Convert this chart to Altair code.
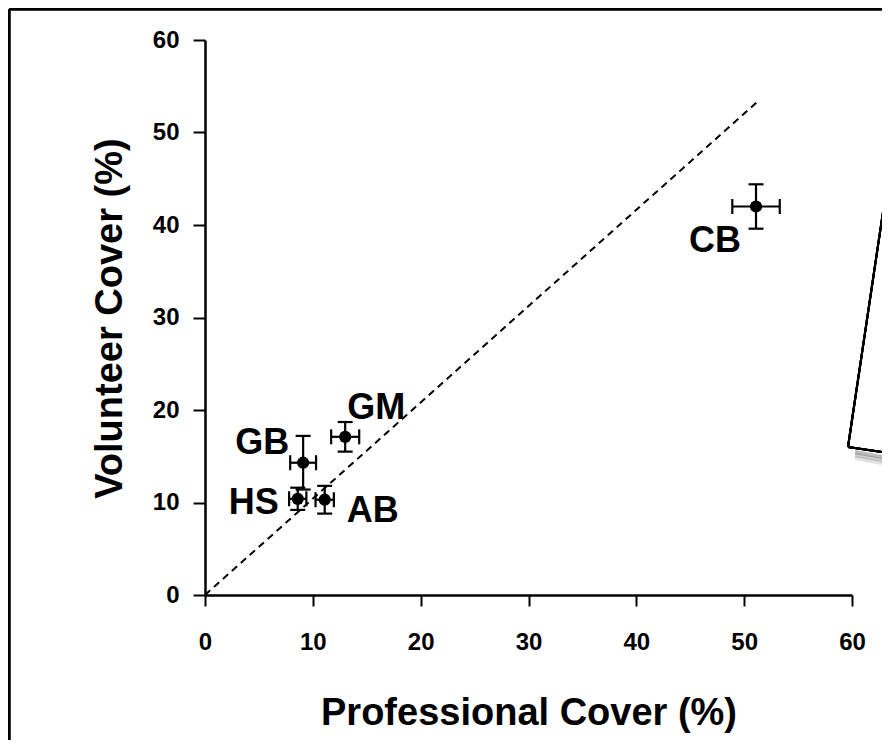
import altair as alt
import pandas as pd

# ---- data ----
labels = ["CB", "GM", "GB", "HS", "AB"]
professional = [51.1, 13.0, 9.1, 8.6, 11.1]
volunteer = [42.0, 17.1, 14.3, 10.4, 10.3]
prof_err = [2.2, 1.3, 1.2, 0.8, 0.85]
vol_err = [2.4, 1.6, 2.9, 1.2, 1.5]

line_x = [0, 51.3]
line_y = [0, 53.4]

x_ticks = [0, 10, 20, 30, 40, 50, 60]
y_ticks = [0, 10, 20, 30, 40, 50, 60]

df = pd.DataFrame({
    "label": labels,
    "prof": professional,
    "vol": volunteer,
    "prof_lo": [p - e for p, e in zip(professional, prof_err)],
    "prof_hi": [p + e for p, e in zip(professional, prof_err)],
    "vol_lo": [v - e for v, e in zip(volunteer, vol_err)],
    "vol_hi": [v + e for v, e in zip(volunteer, vol_err)],
})
line_df = pd.DataFrame({"x": line_x, "y": line_y})

W, H = 647, 555
PAD_L, PAD_T, PAD_R, PAD_B = 197, 32, 30, 145
FONT = "Liberation Sans"

xscale = alt.Scale(domain=[0, 60], nice=False, zero=False)
yscale = alt.Scale(domain=[0, 60], nice=False, zero=False)

xaxis = alt.Axis(values=x_ticks, title="Professional Cover (%)", grid=False,
                 tickSize=11, tickWidth=2, domainWidth=2.5, domainColor="black",
                 tickColor="black", labelFontSize=24, labelFontWeight="bold",
                 labelFont=FONT, labelColor="black", labelPadding=24,
                 labelFlush=False, labelOverlap=False,
                 titleFont=FONT, titleFontSize=38, titleFontWeight="bold",
                 titleColor="black", titleY=118, titleBaseline="middle")
yaxis = alt.Axis(values=y_ticks, title="Volunteer Cover (%)", grid=False,
                 tickSize=12, tickWidth=2, domainWidth=2.5, domainColor="black",
                 tickColor="black", labelFontSize=24, labelFontWeight="bold",
                 labelFont=FONT, labelColor="black", labelPadding=14,
                 labelOverlap=False,
                 titleFont=FONT, titleFontSize=38, titleFontWeight="bold",
                 titleColor="black", titleX=-95, titleY=278, titleAngle=-90,
                 titleBaseline="middle", titleAlign="center")

base = alt.Chart(df)

diag = alt.Chart(line_df).mark_line(color="black", strokeWidth=2, strokeDash=[7, 5]).encode(
    x=alt.X("x:Q", scale=xscale, axis=xaxis),
    y=alt.Y("y:Q", scale=yscale, axis=yaxis),
)

xerr = base.mark_rule(color="black", strokeWidth=2.2).encode(
    x=alt.X("prof_lo:Q", scale=xscale), x2="prof_hi:Q", y=alt.Y("vol:Q", scale=yscale))
yerr = base.mark_rule(color="black", strokeWidth=2.2).encode(
    x=alt.X("prof:Q", scale=xscale), y=alt.Y("vol_lo:Q", scale=yscale), y2="vol_hi:Q")

caps = []
for fx, fy, orient in [("prof_lo", "vol", "vertical"), ("prof_hi", "vol", "vertical"),
                       ("prof", "vol_lo", "horizontal"), ("prof", "vol_hi", "horizontal")]:
    caps.append(base.mark_tick(color="black", orient=orient, size=15, thickness=2.2, opacity=1).encode(
        x=alt.X(f"{fx}:Q", scale=xscale), y=alt.Y(f"{fy}:Q", scale=yscale)))

pts = base.mark_point(filled=True, color="black", size=150, opacity=1).encode(
    x=alt.X("prof:Q", scale=xscale), y=alt.Y("vol:Q", scale=yscale))

offsets = {"CB": (-41, 34), "GM": (31, -29), "GB": (-41, -20), "HS": (-44, 4), "AB": (48, 11)}
texts = []
for lab, (dx, dy) in offsets.items():
    texts.append(base.transform_filter(alt.datum.label == lab).mark_text(
        font=FONT, fontSize=36, fontWeight="bold", color="black",
        dx=dx, dy=dy, align="center", baseline="middle").encode(
        x=alt.X("prof:Q", scale=xscale), y=alt.Y("vol:Q", scale=yscale), text="label:N"))

# decorative frame and overlaid card, in pixel space
frame_left = alt.Chart(df).mark_rule(color="black", strokeWidth=2.5, clip=False).encode(
    x=alt.value(-196), y=alt.value(-31), y2=alt.value(H + PAD_B))
frame_top = alt.Chart(df).mark_rule(color="black", strokeWidth=2.5, clip=False).encode(
    x=alt.value(-196), x2=alt.value(W + PAD_R), y=alt.value(-31))
shadows = []
for off, op in [(4, 0.10), (7, 0.07), (10, 0.04)]:
    shadows.append(alt.Chart(df).mark_rule(color="#666", strokeWidth=4, opacity=op, clip=False).encode(
        x=alt.value(650), x2=alt.value(W + PAD_R), y=alt.value(408 + off), y2=alt.value(413 + off)))
card_left = alt.Chart(df).mark_rule(color="black", strokeWidth=2, clip=False).encode(
    x=alt.value(685), x2=alt.value(643), y=alt.value(125), y2=alt.value(407))
card_bottom = alt.Chart(df).mark_rule(color="black", strokeWidth=2, clip=False).encode(
    x=alt.value(643), x2=alt.value(W + PAD_R), y=alt.value(407), y2=alt.value(412))

chart = alt.layer(diag, xerr, yerr, *caps, pts, *texts,
                  frame_left, frame_top, *shadows, card_left, card_bottom).properties(
    width=W, height=H,
    autosize=alt.AutoSizeParams(type="none"),
    padding={"left": PAD_L, "top": PAD_T, "right": PAD_R, "bottom": PAD_B},
    background="white",
).configure_view(stroke=None)

chart.save("out.html", embed_options={"renderer": "svg", "actions": False})
